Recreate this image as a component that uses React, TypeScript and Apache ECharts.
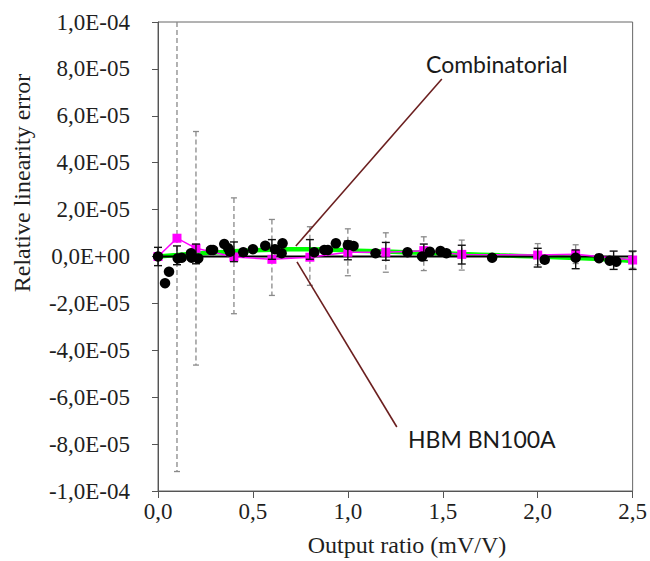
import React, { useEffect, useRef } from "react";
import * as echarts from "echarts";

// ---- data (relative linearity error) ----
const E5 = 1e-5;

// Combinatorial method (black circles)
const combX = [0, 0.037, 0.058, 0.104, 0.125, 0.174, 0.177, 0.212, 0.279, 0.29, 0.349, 0.37, 0.379, 0.449, 0.5, 0.565, 0.616, 0.656, 0.651, 0.823, 0.876, 0.895, 0.937, 1.0, 1.03, 1.146, 1.314, 1.391, 1.432, 1.488, 1.519, 1.76, 2.037, 2.2, 2.323, 2.379, 2.414];
const combY = [0, -1.14, -0.65, -0.08, -0.05, 0.14, -0.05, -0.08, 0.28, 0.28, 0.53, 0.35, 0.2, 0.18, 0.31, 0.46, 0.31, 0.56, 0.14, 0.18, 0.28, 0.28, 0.56, 0.49, 0.45, 0.14, 0.18, 0, 0.2, 0.23, 0.14, -0.05, -0.14, -0.05, -0.07, -0.18, -0.22];

// Fit curve (green)
const fitX = [0, 0.1, 0.2, 0.3, 0.4, 0.5, 0.6, 0.7, 0.8, 1.0, 1.2, 1.4, 1.6, 1.8, 2.0, 2.2, 2.4, 2.5];
const fitY = [0, 0.06, 0.12, 0.17, 0.22, 0.26, 0.29, 0.31, 0.31, 0.26, 0.21, 0.16, 0.11, 0.05, 0, -0.06, -0.14, -0.19];

// Black error bars (combinatorial uncertainty): centre and half width
const barX = [0, 0.1, 0.2, 0.4, 0.6, 0.8, 1.0, 1.2, 1.4, 1.6, 2.0, 2.2, 2.4, 2.5];
const barC = [0, 0.05, 0.11, 0.2, 0.3, 0.3, 0.26, 0.22, 0.18, 0.08, -0.05, -0.12, -0.16, -0.16];
const barH = [0.39, 0.4, 0.42, 0.42, 0.42, 0.42, 0.4, 0.38, 0.35, 0.4, 0.4, 0.4, 0.39, 0.39];

// HBM BN100A (magenta squares)
const hbmX = [0, 0.1, 0.2, 0.4, 0.6, 0.8, 1.0, 1.2, 1.4, 1.6, 2.0, 2.2, 2.5];
const hbmY = [0, 0.78, 0.35, -0.02, -0.12, -0.03, 0.18, 0.18, 0.25, 0.09, 0.06, 0.1, -0.15];
// HBM uncertainty (grey dashed bars), centre and half width
const hbmErrX = [0.1, 0.2, 0.4, 0.6, 0.8, 1.0, 1.2, 1.4, 1.6, 2.0, 2.2, 2.5];
const hbmErrC = [0.78, 0.35, 0.03, -0.04, 0.02, 0.18, 0.17, 0.12, 0.06, 0.1, 0.1, -0.15];
const hbmErrH = [9.95, 4.98, 2.47, 1.62, 1.25, 1.0, 0.84, 0.72, 0.64, 0.45, 0.4, 0.35];

// Leader lines for annotations (data coordinates)
const combLeader = [[1.495, 7.57], [0.726, 0.45]];
const hbmLeader = [[0.732, -0.23], [1.258, -7.27]];

const xTicks = { min: 0, max: 2.5, interval: 0.5 };
const yTicks = { min: -1e-4, max: 1e-4, interval: 2e-5 };

const serif = "Liberation Serif";
const sans = "Lato";

function fmtY(v: number) {
  const s = v.toExponential(1);
  const m = s.match(/^(-?[\d.]+)e([+-])(\d+)$/);
  if (!m) return s;
  const exp = m[3].padStart(2, "0");
  return m[1].replace(".", ",") + "E" + m[2] + exp;
}

function makeErrRender(color: string, dashed: boolean, capW: number, lw: number) {
  return (params: any, api: any) => {
    const x = api.value(0);
    const lo = api.value(1);
    const hi = api.value(2);
    const topClipped = hi > yTicks.max;
    const botClipped = lo < yTicks.min;
    const p1 = api.coord([x, Math.min(hi, yTicks.max)]);
    const p2 = api.coord([x, Math.max(lo, yTicks.min)]);
    const children: any[] = [
      {
        type: "line",
        shape: { x1: p1[0], y1: p1[1], x2: p2[0], y2: p2[1] },
        style: { stroke: color, lineWidth: lw, lineDash: dashed ? [5, 3] : null },
      },
    ];
    if (!topClipped)
      children.push({
        type: "line",
        shape: { x1: p1[0] - capW / 2, y1: p1[1], x2: p1[0] + capW / 2, y2: p1[1] },
        style: { stroke: color, lineWidth: lw },
      });
    if (!botClipped)
      children.push({
        type: "line",
        shape: { x1: p2[0] - capW / 2, y1: p2[1], x2: p2[0] + capW / 2, y2: p2[1] },
        style: { stroke: color, lineWidth: lw },
      });
    return { type: "group", children };
  };
}

export default function App() {
  const ref = useRef<HTMLDivElement>(null);
  useEffect(() => {
    if (!ref.current) return;
    const chart = echarts.init(ref.current, undefined, { renderer: "svg" });
    const axisColor = "#555";
    const option: any = {
      animation: false,
      textStyle: { fontFamily: serif },
      grid: { left: 158, right: 17, top: 22, bottom: 70, show: true, borderColor: "#666", borderWidth: 1, backgroundColor: "transparent" },
      xAxis: {
        type: "value",
        ...xTicks,
        axisLine: { onZero: false, lineStyle: { color: axisColor, width: 1 } },
        axisTick: { show: true, inside: false, length: 7, lineStyle: { color: axisColor } },
        splitLine: { show: false },
        axisLabel: {
          formatter: (v: number) => v.toFixed(1).replace(".", ","),
          fontFamily: serif,
          fontSize: 23,
          color: "#1f1f1f",
          margin: 9,
        },
      },
      yAxis: {
        type: "value",
        ...yTicks,
        axisLine: { onZero: false, lineStyle: { color: axisColor, width: 1 } },
        axisTick: { show: true, inside: false, length: 6, lineStyle: { color: axisColor } },
        splitLine: { show: false },
        axisLabel: { formatter: fmtY, fontFamily: serif, fontSize: 23, color: "#1f1f1f", margin: 28 },
      },
      series: [
        {
          name: "HBM uncertainty",
          type: "custom",
          renderItem: makeErrRender("#8a8a8a", true, 6, 1.3),
          encode: { x: 0, y: [1, 2] },
          data: hbmErrX.map((x, i) => [x, (hbmErrC[i] - hbmErrH[i]) * E5, (hbmErrC[i] + hbmErrH[i]) * E5]),
          z: 1,
        },
        {
          name: "fit",
          type: "line",
          data: fitX.map((x, i) => [x, fitY[i] * E5]),
          symbol: "none",
          smooth: true,
          lineStyle: { color: "#00ff00", width: 4.5 },
          z: 2,
        },
        {
          name: "zero",
          type: "line",
          data: [[xTicks.min, 0], [xTicks.max, 0]],
          symbol: "none",
          lineStyle: { color: "#000", width: 1.8 },
          z: 3,
        },
        {
          name: "HBM BN100A",
          type: "line",
          data: hbmX.map((x, i) => [x, hbmY[i] * E5]),
          symbol: "rect",
          symbolSize: 9,
          itemStyle: { color: "#ff00ff", opacity: 1 },
          lineStyle: { color: "#ff00ff", width: 1.5 },
          z: 4,
        },
        {
          name: "Combinatorial uncertainty",
          type: "custom",
          renderItem: makeErrRender("#111", false, 8, 1.4),
          encode: { x: 0, y: [1, 2] },
          data: barX.map((x, i) => [x, (barC[i] - barH[i]) * E5, (barC[i] + barH[i]) * E5]),
          z: 5,
        },
        {
          name: "Combinatorial",
          type: "scatter",
          data: combX.map((x, i) => [x, combY[i] * E5]),
          symbol: "circle",
          symbolSize: 10.5,
          itemStyle: { color: "#000", opacity: 1 },
          z: 6,
        },
        {
          name: "leader1",
          type: "line",
          data: combLeader.map((p) => [p[0], p[1] * E5]),
          symbol: "none",
          lineStyle: { color: "#6b1f1f", width: 1.6 },
          z: 7,
        },
        {
          name: "leader2",
          type: "line",
          data: hbmLeader.map((p) => [p[0], p[1] * E5]),
          symbol: "none",
          lineStyle: { color: "#6b1f1f", width: 1.6 },
          z: 7,
        },
      ],
      graphic: [
        {
          type: "text",
          x: 22,
          y: 183,
          rotation: Math.PI / 2,
          style: { text: "Relative linearity error", font: `24px ${serif}`, fill: "#1f1f1f", textAlign: "center", textVerticalAlign: "middle" },
        },
        {
          type: "text",
          x: 407,
          y: 545,
          style: { text: "Output ratio (mV/V)", font: `24px ${serif}`, fill: "#1f1f1f", textAlign: "center", textVerticalAlign: "middle" },
        },
        {
          type: "text",
          x: 426,
          y: 64,
          style: { text: "Combinatorial", font: `23px ${sans}`, fill: "#1a1a1a", textAlign: "left", textVerticalAlign: "middle" },
        },
        {
          type: "text",
          x: 408,
          y: 439,
          style: { text: "HBM BN100A", font: `23px ${sans}`, fill: "#1a1a1a", textAlign: "left", textVerticalAlign: "middle" },
        },
      ],
    };
    chart.setOption(option);
    return () => chart.dispose();
  }, []);
  return <div ref={ref} style={{ position: "fixed", left: 0, top: 0, width: 650, height: 561, background: "#fff" }} />;
}
